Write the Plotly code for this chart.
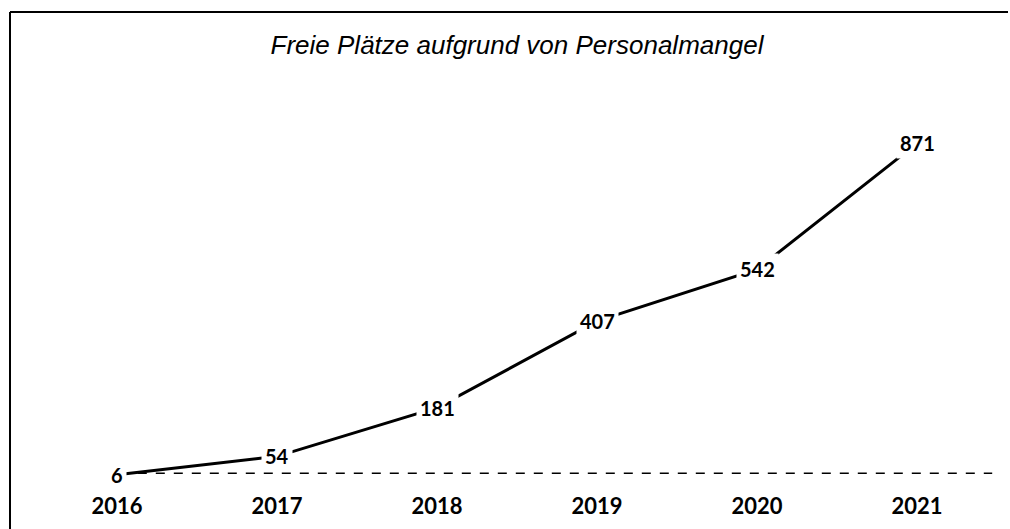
import plotly.graph_objects as go

years = ["2016", "2017", "2018", "2019", "2020", "2021"]
values = [6, 54, 181, 407, 542, 871]
title_text = "Freie Plätze aufgrund von Personalmangel"

W, H = 1010, 529
ML, MR, MT, MB = 37, 13, 94, 52
pw = W - ML - MR
ph = H - MT - MB

def px_x(p):
    return (p - ML) / pw

def px_y(p):
    return (H - MB - p) / ph

fig = go.Figure()
fig.add_trace(go.Scatter(
    x=years, y=values, mode="lines",
    line=dict(color="black", width=3),
    hoverinfo="skip", showlegend=False,
))

for i, v in enumerate(values):
    fig.add_annotation(
        x=i, y=v, xref="x", yref="y", text=str(v), showarrow=False,
        font=dict(family="Lato", size=20, color="black", weight="bold"),
        bgcolor="white", borderpad=3,
        xanchor="center", yanchor="middle",
    )

shapes = [
    # dashed baseline
    dict(type="line", xref="paper", yref="y", x0=0.105, x1=0.995, y0=10, y1=10,
         line=dict(color="black", width=1.5, dash="dash"), layer="below"),
    # frame: left and top
    dict(type="line", xref="paper", yref="paper",
         x0=px_x(10), x1=px_x(10), y0=px_y(12), y1=px_y(H + 5),
         line=dict(color="black", width=2)),
    dict(type="line", xref="paper", yref="paper",
         x0=px_x(10), x1=px_x(1008), y0=px_y(12), y1=px_y(12),
         line=dict(color="black", width=2)),
]

fig.update_layout(
    width=W, height=H,
    margin=dict(l=ML, r=MR, t=MT, b=MB, autoexpand=False),
    paper_bgcolor="white", plot_bgcolor="white",
    title=dict(
        text=title_text, x=0.5, xref="paper", xanchor="center",
        y=1 - 45 / H, yref="container", yanchor="middle",
        font=dict(family="Liberation Sans", size=26, color="black", style="italic"),
    ),
    xaxis=dict(
        type="category", range=[-0.5, 5.5], showgrid=False, zeroline=False,
        showline=False, ticks="", ticklabelstandoff=14, automargin=False,
        tickfont=dict(family="Lato", size=22, color="black", weight="bold"),
    ),
    yaxis=dict(range=[0, 1000], visible=False, automargin=False),
    shapes=shapes,
    showlegend=False,
)

fig.write_html(
    "out.html",
    config={"displayModeBar": False},
    post_script="document.body.style.margin='0px';document.body.style.overflow='hidden';",
)
